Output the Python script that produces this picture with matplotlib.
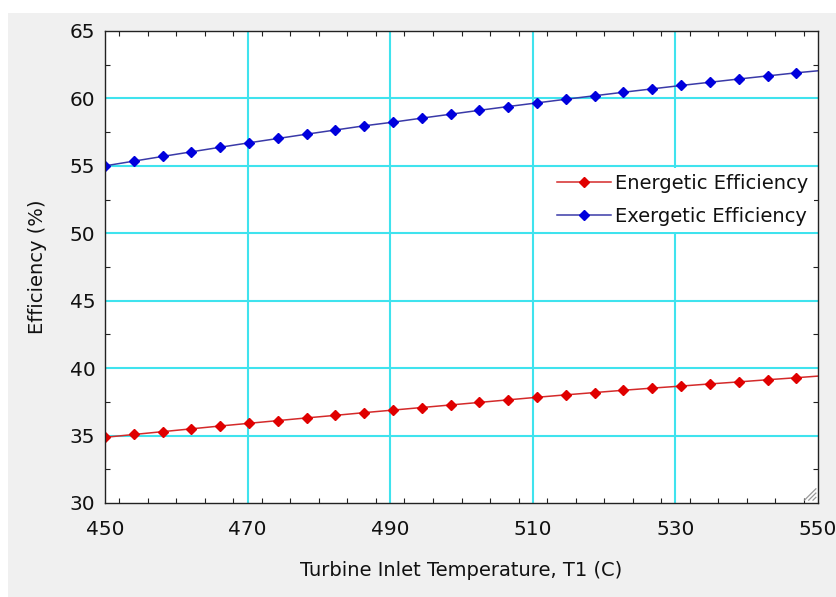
import matplotlib
matplotlib.use("Agg")
import matplotlib.pyplot as plt
from matplotlib.patches import Rectangle
from matplotlib.ticker import MultipleLocator

# ---- data ----
temps = [450.00, 454.04, 458.08, 462.12, 466.16, 470.20, 474.24, 478.28, 482.32,
         486.36, 490.40, 494.44, 498.48, 502.52, 506.56, 510.60, 514.64, 518.68,
         522.72, 526.76, 530.80, 534.84, 538.88, 542.92, 546.96, 550.00]
energetic = [34.87, 35.08, 35.29, 35.50, 35.71, 35.91, 36.11, 36.31, 36.50,
             36.70, 36.89, 37.08, 37.27, 37.46, 37.65, 37.84, 38.02, 38.19,
             38.36, 38.52, 38.67, 38.83, 38.98, 39.14, 39.29, 39.41]
exergetic = [55.00, 55.35, 55.70, 56.04, 56.38, 56.71, 57.03, 57.35, 57.66,
             57.97, 58.24, 58.54, 58.83, 59.12, 59.40, 59.67, 59.94, 60.20,
             60.46, 60.71, 60.96, 61.20, 61.44, 61.67, 61.90, 62.05]
series_names = ["Energetic Efficiency", "Exergetic Efficiency"]
xticks = [450, 470, 490, 510, 530, 550]
yticks = [30, 35, 40, 45, 50, 55, 60, 65]
xlabel = "Turbine Inlet Temperature, T1 (C)"
ylabel = "Efficiency (%)"

W, H = 837, 597
plt.rcParams['font.family'] = ['DejaVu Sans']
fig = plt.figure(figsize=(W / 100, H / 100), dpi=100, facecolor="white")
fig.patches.append(Rectangle((8 / W, 0), 1 - 8 / W, 1 - 13 / H,
                             transform=fig.transFigure, facecolor="#f0f0f0",
                             edgecolor="none", zorder=-10))

ax = fig.add_axes([105 / W, 1 - 503 / H, (818 - 105) / W, (503 - 31) / H])
ax.set_facecolor("white")

n_mark = len(temps) - 1
ax.plot(temps, energetic, color="#d42a2a", lw=1.1, marker="D", ms=4.6,
        mfc="#e00000", mec="#e00000", markevery=list(range(n_mark)),
        label=series_names[0], zorder=3)
ax.plot(temps, exergetic, color="#3a3aa8", lw=1.1, marker="D", ms=4.6,
        mfc="#0000dd", mec="#0000dd", markevery=list(range(n_mark)),
        label=series_names[1], zorder=3)

ax.set_xlim(450, 550)
ax.set_ylim(30, 65)
ax.set_xticks(xticks)
ax.set_yticks(yticks)
ax.xaxis.set_minor_locator(MultipleLocator(4))
ax.yaxis.set_minor_locator(MultipleLocator(2.5))
ax.grid(True, which="major", color="#3fe3ee", lw=1.5)
ax.set_axisbelow(True)
# hide grid lines that coincide with the frame
for t in (ax.xaxis.get_major_ticks()[0], ax.xaxis.get_major_ticks()[-1],
          ax.yaxis.get_major_ticks()[0], ax.yaxis.get_major_ticks()[-1]):
    t.gridline.set_visible(False)

ax.tick_params(which="both", direction="in", top=True, right=True,
               color="#222222")
ax.tick_params(which="major", length=0, labelsize=14.5, pad=7)
ax.tick_params(axis="x", which="major", pad=12)
ax.tick_params(which="minor", length=3.5, width=0.8)
for s in ax.spines.values():
    s.set_color("#222222")
    s.set_linewidth(1.0)
    s.set_zorder(4)
for lab in ax.get_xticklabels() + ax.get_yticklabels():
    lab.set_color("#111111")

ax.set_xlabel(xlabel, fontsize=14, labelpad=16, color="#111111")
ax.set_ylabel(ylabel, fontsize=14, labelpad=16, color="#111111")

leg = ax.legend(loc="center right", bbox_to_anchor=(1.0, 0.642), fontsize=14,
                frameon=True, facecolor="white", edgecolor="none",
                fancybox=False, framealpha=1, handlelength=2.8,
                handletextpad=0.2, borderpad=0.3, labelspacing=0.7,
                borderaxespad=0.2)
leg.set_zorder(3.5)
for txt in leg.get_texts():
    txt.set_color("#111111")

# resize grip decoration
for k in range(3):
    ax.plot([0.981 + 0.006 * k, 0.997], [0.006, 0.030 - 0.009 * k],
            color="#999999", lw=0.9, transform=ax.transAxes, clip_on=False,
            zorder=5)

fig.savefig("out.png", dpi=100, facecolor=fig.get_facecolor())
